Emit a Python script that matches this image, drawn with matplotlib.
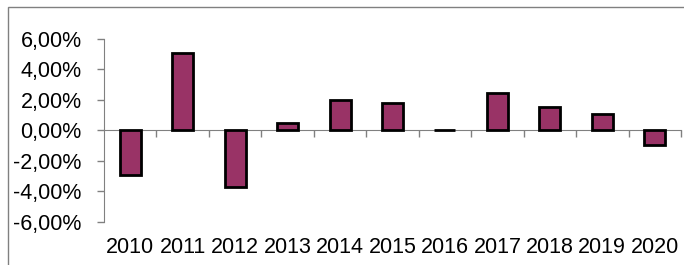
import matplotlib.pyplot as plt
from matplotlib.patches import Rectangle

# données
years = ["2010", "2011", "2012", "2013", "2014", "2015", "2016", "2017", "2018", "2019", "2020"]
values = [-0.0292, 0.0507, -0.0372, 0.0052, 0.0198, 0.0178, 0.0005, 0.0248, 0.0152, 0.0107, -0.0092]
ytick_vals = [-0.06, -0.04, -0.02, 0.0, 0.02, 0.04, 0.06]
ytick_labels = ["-6,00%", "-4,00%", "-2,00%", "0,00%", "2,00%", "4,00%", "6,00%"]

plt.rcParams['font.family'] = ['Liberation Sans', 'DejaVu Sans']

fig = plt.figure(figsize=(6.84, 2.65), dpi=100)
ax = fig.add_axes([0.152, 0.1623, 0.8436, 0.6906])

# cadre du graphique (coupé à droite et en bas)
fig.patches.append(Rectangle((8 / 684, -0.1), 1.2, 1.1 - 7 / 265, transform=fig.transFigure,
                             fill=False, edgecolor='#808080', linewidth=1.0))

x = list(range(len(years)))
ax.bar(x, values, width=0.4, color='#993366', edgecolor='black', linewidth=2.0, zorder=3)

ax.set_xlim(-0.5, len(years) - 0.5)
ax.set_ylim(-0.06, 0.06)

# axe y
ax.set_yticks(ytick_vals)
ax.set_yticklabels(ytick_labels, fontsize=15.5)
ax.tick_params(axis='y', direction='out', length=5, width=1, color='#808080', pad=11)

# axe x au niveau 0, graduations entre les catégories
ax.spines['bottom'].set_position(('data', 0))
ax.set_xticks([i + 0.5 for i in x[:-1]] + [len(years) - 0.5])
ax.set_xticklabels([])
ax.tick_params(axis='x', direction='out', length=5, width=1, color='#808080')

for s in ['top', 'right']:
    ax.spines[s].set_visible(False)
ax.spines['left'].set_color('#808080')
ax.spines['bottom'].set_color('#808080')

# étiquettes des années en bas du graphique
for i, y in zip(x, years):
    ax.text(i, -0.142, y, transform=ax.get_xaxis_transform(), ha='center', va='center', fontsize=15.5)

fig.savefig("out.png", dpi=100)
